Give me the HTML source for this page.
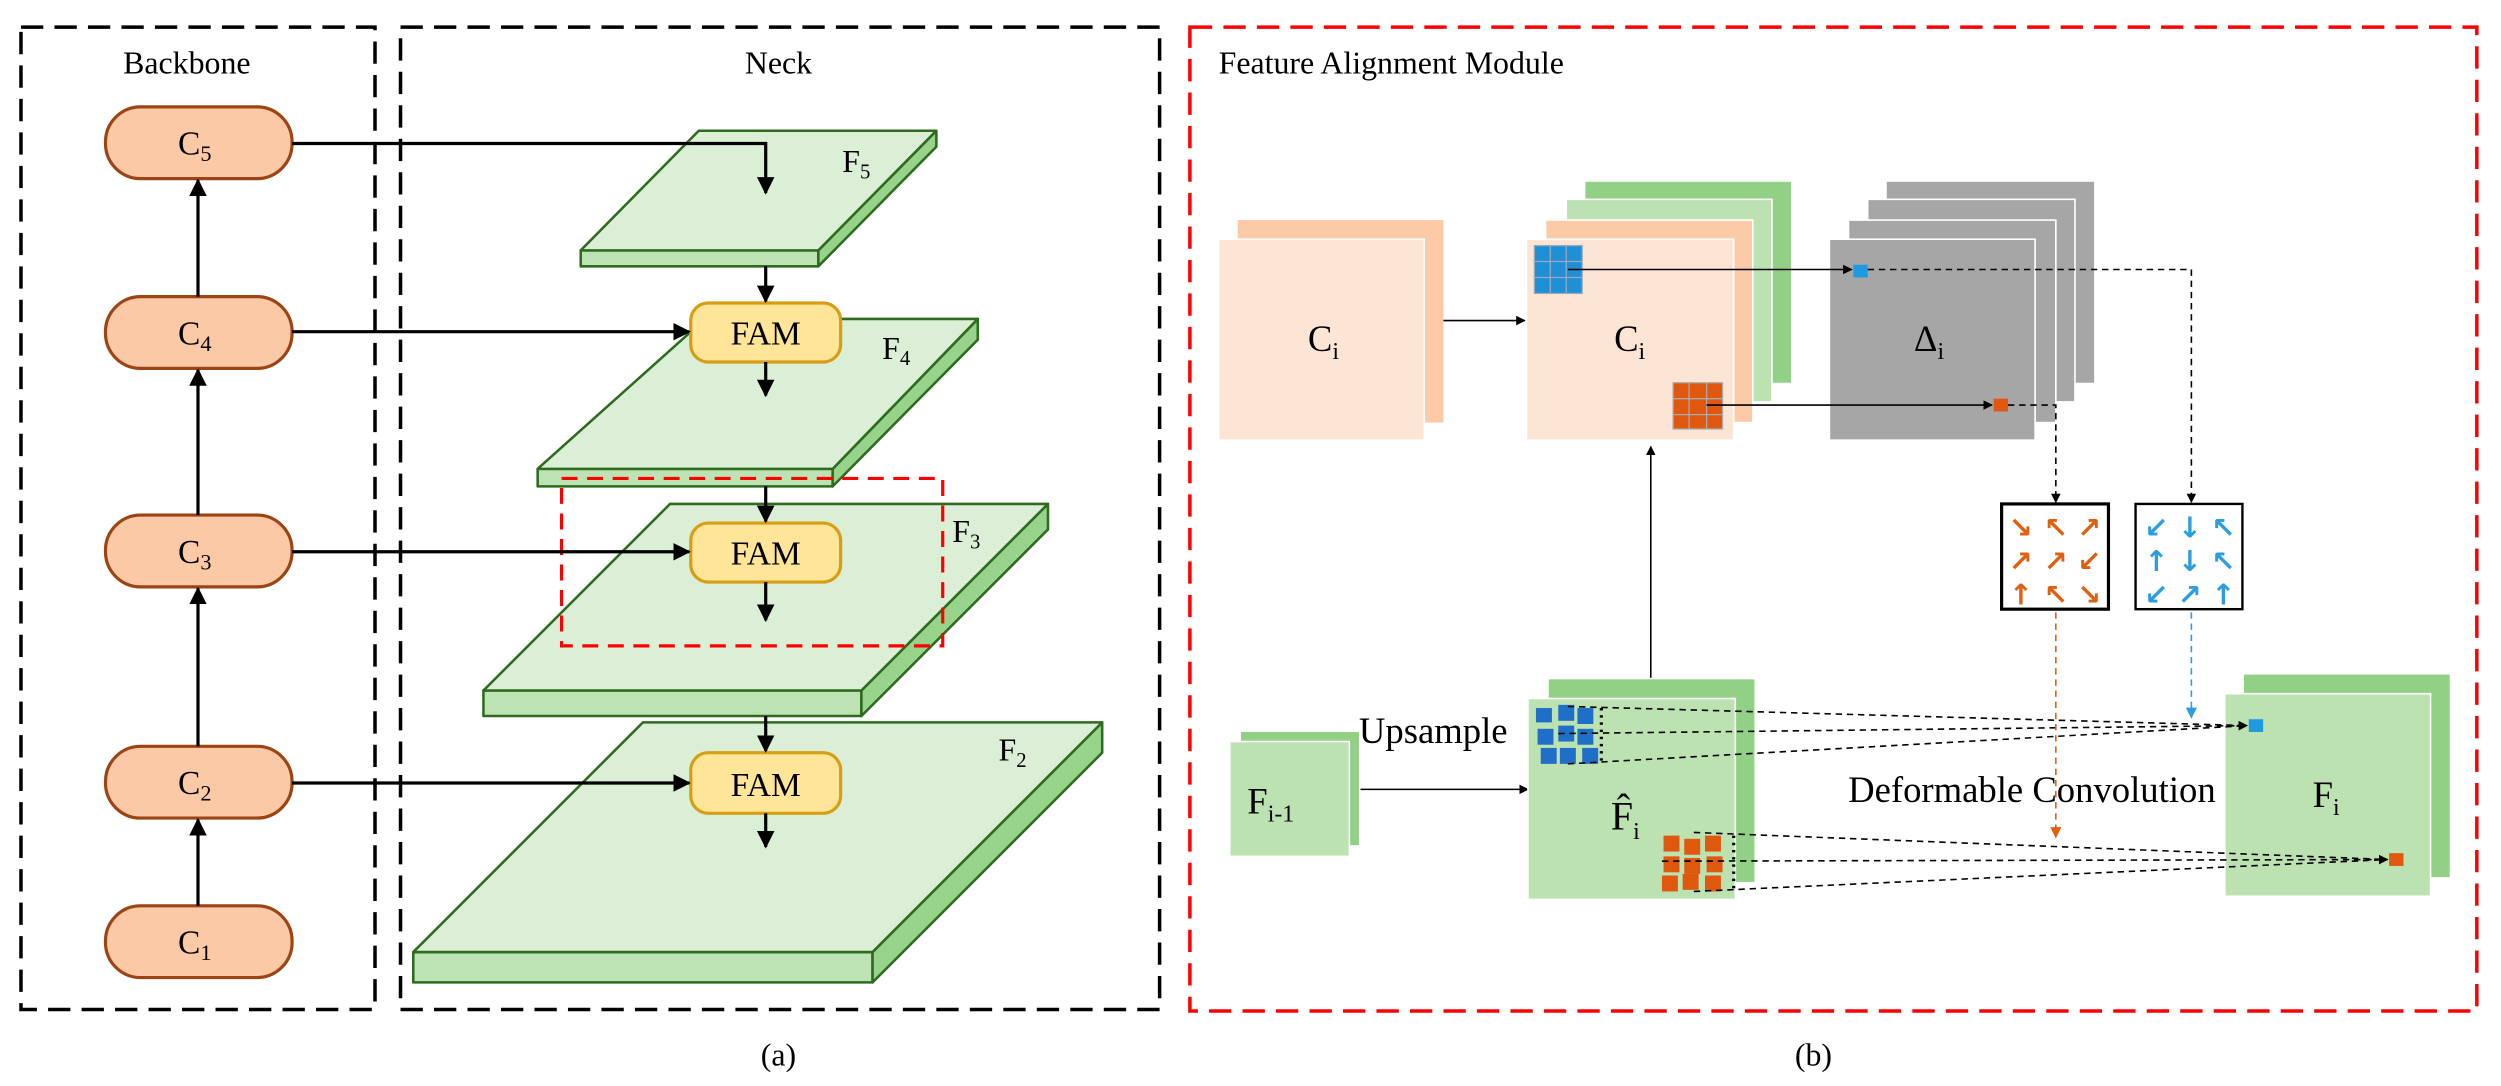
<!DOCTYPE html>
<html><head><meta charset="utf-8"><style>
html,body{margin:0;padding:0;background:#fff;}
svg{display:block;}
svg text{font-family:"Liberation Serif","Times New Roman",serif;}
</style></head><body>
<svg width="2501" height="1086" viewBox="0 0 1568 681" xmlns="http://www.w3.org/2000/svg" font-family="Liberation Serif, serif">
<defs>
<marker id="a" viewBox="0 0 10 10" refX="9" refY="5" markerWidth="6" markerHeight="6" markerUnits="userSpaceOnUse" orient="auto"><path d="M0,0L10,5L0,10z" fill="#000"/></marker>
<marker id="ab" viewBox="0 0 10 10" refX="9" refY="5" markerWidth="11" markerHeight="11" markerUnits="userSpaceOnUse" orient="auto"><path d="M0,0L10,5L0,10z" fill="#000"/></marker>
<marker id="ao" viewBox="0 0 10 10" refX="9" refY="5" markerWidth="7" markerHeight="7" markerUnits="userSpaceOnUse" orient="auto"><path d="M0,0L10,5L0,10z" fill="#e0600f"/></marker>
<marker id="abl" viewBox="0 0 10 10" refX="9" refY="5" markerWidth="7" markerHeight="7" markerUnits="userSpaceOnUse" orient="auto"><path d="M0,0L10,5L0,10z" fill="#2a9ee0"/></marker>
</defs>

<g fill="none" stroke-width="2.2" stroke-dasharray="14,7">
<rect x="13" y="17" width="222" height="616" stroke="#000"/>
<rect x="251" y="17" width="476" height="616" stroke="#000"/>
<rect x="746" y="17" width="807" height="617" stroke="#f00"/>
</g>
<text x="117" y="46" font-size="20" text-anchor="middle">Backbone</text>
<text x="488" y="46" font-size="20" text-anchor="middle">Neck</text>
<text x="764" y="46" font-size="20">Feature Alignment Module</text>
<text x="488" y="668" font-size="20" text-anchor="middle">(a)</text>
<text x="1137" y="668" font-size="20" text-anchor="middle">(b)</text>

<g stroke="#2e6b1f" stroke-width="1.6" stroke-linejoin="round">
<polygon points="259,597 547,597 547,616 259,616" fill="#bde3b4"/>
<polygon points="547,597 691,453 691,472 547,616" fill="#97d38a"/>
<polygon points="403,453 691,453 547,597 259,597" fill="#daefd5"/>
<polygon points="303,433 540,433 540,449 303,449" fill="#bde3b4"/>
<polygon points="540,433 657,316 657,332 540,449" fill="#97d38a"/>
<polygon points="420,316 657,316 540,433 303,433" fill="#daefd5"/>
<polygon points="337,294 522,294 522,305 337,305" fill="#bde3b4"/>
<polygon points="522,294 613,200 613,213 522,305" fill="#97d38a"/>
<polygon points="442,200 613,200 522,294 337,294" fill="#daefd5"/>
<polygon points="364,157 513,157 513,167 364,167" fill="#bde3b4"/>
<polygon points="513,157 587,82 587,92 513,167" fill="#97d38a"/>
<polygon points="438,82 587,82 513,157 364,157" fill="#daefd5"/>
</g>
<g font-size="20">
<text x="528" y="108">F<tspan font-size="13" dy="4">5</tspan></text>
<text x="553" y="225">F<tspan font-size="13" dy="4">4</tspan></text>
<text x="597" y="340">F<tspan font-size="13" dy="4">3</tspan></text>
<text x="626" y="477">F<tspan font-size="13" dy="4">2</tspan></text>
</g>

<rect x="352" y="300" width="239" height="105" fill="none" stroke="#f00" stroke-width="2" stroke-dasharray="10,6"/>

<g stroke="#9c4414" stroke-width="2" fill="#fcc9a6">
<rect x="66" y="67" width="117" height="45" rx="22"/>
<rect x="66" y="186" width="117" height="45" rx="22"/>
<rect x="66" y="323" width="117" height="45" rx="22"/>
<rect x="66" y="468" width="117" height="45" rx="22"/>
<rect x="66" y="568" width="117" height="45" rx="22"/>
</g>
<g font-size="21" text-anchor="middle">
<text x="122" y="97">C<tspan font-size="14" dy="4">5</tspan></text>
<text x="122" y="216">C<tspan font-size="14" dy="4">4</tspan></text>
<text x="122" y="353">C<tspan font-size="14" dy="4">3</tspan></text>
<text x="122" y="498">C<tspan font-size="14" dy="4">2</tspan></text>
<text x="122" y="598">C<tspan font-size="14" dy="4">1</tspan></text>
</g>

<g stroke="#d59e14" stroke-width="2" fill="#ffe597">
<rect x="433" y="190" width="94" height="37" rx="11"/>
<rect x="433" y="328" width="94" height="37" rx="11"/>
<rect x="433" y="472" width="94" height="38" rx="11"/>
</g>
<g font-size="21" text-anchor="middle">
<text x="480" y="216">FAM</text>
<text x="480" y="354">FAM</text>
<text x="480" y="499">FAM</text>
</g>

<g stroke="#000" stroke-width="2" fill="none" marker-end="url(#ab)">
<line x1="124" y1="568" x2="124" y2="514"/>
<line x1="124" y1="468" x2="124" y2="369"/>
<line x1="124" y1="323" x2="124" y2="232"/>
<line x1="124" y1="186" x2="124" y2="113"/>
<polyline points="183,90 480,90 480,121"/>
<line x1="183" y1="208" x2="432" y2="208"/>
<line x1="183" y1="346" x2="432" y2="346"/>
<line x1="183" y1="491" x2="432" y2="491"/>
<line x1="480" y1="167" x2="480" y2="189"/>
<line x1="480" y1="227" x2="480" y2="248"/>
<line x1="480" y1="305" x2="480" y2="327"/>
<line x1="480" y1="365" x2="480" y2="389"/>
<line x1="480" y1="449" x2="480" y2="471"/>
<line x1="480" y1="510" x2="480" y2="531"/>
</g>

<rect x="776" y="138" width="129" height="127" fill="#fdcaa8"/>
<rect x="764" y="150" width="129" height="126" fill="#fde5d5" stroke="#fff" stroke-width="1"/>
<text x="820" y="220" font-size="23">C<tspan font-size="15" dy="5">i</tspan></text>

<rect x="994" y="114" width="129" height="126" fill="#92d086"/>
<rect x="982" y="125" width="129" height="127" fill="#bce2b2" stroke="#fff"/>
<rect x="969" y="138" width="130" height="127" fill="#fdcaa8" stroke="#fff"/>
<rect x="957" y="150" width="130" height="126" fill="#fde5d5" stroke="#fff"/>
<text x="1012" y="220" font-size="23">C<tspan font-size="15" dy="5">i</tspan></text>

<rect x="1183" y="114" width="130" height="126" fill="#a6a6a6"/>
<rect x="1171" y="125" width="130" height="127" fill="#a6a6a6" stroke="#fff"/>
<rect x="1159" y="138" width="130" height="127" fill="#a6a6a6" stroke="#fff"/>
<rect x="1147" y="150" width="129" height="126" fill="#a6a6a6" stroke="#fff"/>
<text x="1200" y="220" font-size="23">Δ<tspan font-size="15" dy="5">i</tspan></text>

<g stroke="#9ab" stroke-width="0.8">
<rect x="962" y="154" width="30" height="30" fill="#1f8fd6"/>
<line x1="972" y1="154" x2="972" y2="184"/><line x1="982" y1="154" x2="982" y2="184"/>
<line x1="962" y1="164" x2="992" y2="164"/><line x1="962" y1="174" x2="992" y2="174"/>
</g>
<g stroke="#aaa" stroke-width="0.8">
<rect x="1049" y="240" width="31" height="29" fill="#e0580e"/>
<line x1="1059" y1="240" x2="1059" y2="269"/><line x1="1070" y1="240" x2="1070" y2="269"/>
<line x1="1049" y1="250" x2="1080" y2="250"/><line x1="1049" y1="260" x2="1080" y2="260"/>
</g>

<g stroke="#000" stroke-width="1" fill="none">
<line x1="905" y1="201" x2="956" y2="201" marker-end="url(#a)"/>
<line x1="983" y1="169" x2="1161" y2="169" marker-end="url(#a)"/>
<line x1="1070" y1="254" x2="1249" y2="254" marker-end="url(#a)"/>
<line x1="1035" y1="425" x2="1035" y2="280" marker-end="url(#a)"/>
<line x1="853" y1="495" x2="958" y2="495" marker-end="url(#a)"/>
<polyline points="1171,169 1374,169 1374,315" stroke-dasharray="4,3" marker-end="url(#a)"/>
<polyline points="1259,254 1289,254 1289,315" stroke-dasharray="4,3" marker-end="url(#a)"/>
</g>
<rect x="1162" y="166" width="9" height="8" fill="#1f9ae0"/>
<rect x="1250" y="250" width="9" height="8" fill="#e0580e"/>

<rect x="1255" y="316" width="67" height="66" fill="#fff" stroke="#000" stroke-width="2"/>
<rect x="1339" y="316" width="67" height="66" fill="#fff" stroke="#000" stroke-width="1.5"/>
<g font-size="18" text-anchor="middle" font-weight="bold" style="font-family:'DejaVu Sans',sans-serif">
<g fill="#e0600f" style="fill:#e0600f">
<text x="1267" y="337" style="font-family:'DejaVu Sans',sans-serif">↘</text><text x="1289" y="337" style="font-family:'DejaVu Sans',sans-serif">↖</text><text x="1310" y="337" style="font-family:'DejaVu Sans',sans-serif">↗</text>
<text x="1267" y="358" style="font-family:'DejaVu Sans',sans-serif">↗</text><text x="1289" y="358" style="font-family:'DejaVu Sans',sans-serif">↗</text><text x="1310" y="358" style="font-family:'DejaVu Sans',sans-serif">↙</text>
<text x="1267" y="379" style="font-family:'DejaVu Sans',sans-serif">↑</text><text x="1289" y="379" style="font-family:'DejaVu Sans',sans-serif">↖</text><text x="1310" y="379" style="font-family:'DejaVu Sans',sans-serif">↘</text>
</g>
<g fill="#2a9ee0" style="fill:#2a9ee0">
<text x="1352" y="337" style="font-family:'DejaVu Sans',sans-serif">↙</text><text x="1373" y="337" style="font-family:'DejaVu Sans',sans-serif">↓</text><text x="1394" y="337" style="font-family:'DejaVu Sans',sans-serif">↖</text>
<text x="1352" y="358" style="font-family:'DejaVu Sans',sans-serif">↑</text><text x="1373" y="358" style="font-family:'DejaVu Sans',sans-serif">↓</text><text x="1394" y="358" style="font-family:'DejaVu Sans',sans-serif">↖</text>
<text x="1352" y="379" style="font-family:'DejaVu Sans',sans-serif">↙</text><text x="1373" y="379" style="font-family:'DejaVu Sans',sans-serif">↗</text><text x="1394" y="379" style="font-family:'DejaVu Sans',sans-serif">↑</text>
</g>
</g>

<rect x="778" y="459" width="74" height="71" fill="#92d086"/>
<rect x="771" y="465" width="75" height="72" fill="#bce2b2" stroke="#fff"/>
<text x="782" y="510" font-size="23">F<tspan font-size="15" dy="5">i-1</tspan></text>
<text x="852" y="466" font-size="23">Upsample</text>

<rect x="971" y="426" width="129" height="127" fill="#92d086"/>
<rect x="958" y="438" width="130" height="126" fill="#bce2b2" stroke="#fff"/>
<text x="1010" y="520" font-size="25">F̂<tspan font-size="15" dy="6">i</tspan></text>

<rect x="1407" y="423" width="129" height="127" fill="#92d086"/>
<rect x="1395" y="435" width="129" height="127" fill="#bce2b2" stroke="#fff"/>
<text x="1450" y="506" font-size="23">F<tspan font-size="15" dy="5">i</tspan></text>

<text x="1274" y="503" font-size="23" text-anchor="middle">Deformable Convolution</text>

<g fill="#1f6fc8">
<rect x="963" y="444" width="10" height="9"/><rect x="977" y="442" width="10" height="10"/><rect x="989" y="444" width="10" height="10"/>
<rect x="964" y="457" width="10" height="10"/><rect x="977" y="455" width="10" height="10"/><rect x="989" y="457" width="10" height="10"/>
<rect x="966" y="469" width="10" height="10"/><rect x="978" y="469" width="10" height="10"/><rect x="992" y="469" width="10" height="10"/>
</g>
<g fill="#e0580e">
<rect x="1043" y="524" width="10" height="10"/><rect x="1056" y="526" width="10" height="10"/><rect x="1069" y="524" width="10" height="10"/>
<rect x="1043" y="537" width="10" height="10"/><rect x="1056" y="538" width="10" height="10"/><rect x="1070" y="537" width="10" height="10"/>
<rect x="1042" y="549" width="10" height="10"/><rect x="1055" y="548" width="10" height="10"/><rect x="1069" y="549" width="10" height="10"/>
</g>
<rect x="1410" y="451" width="9" height="8" fill="#1f9ae0"/>
<rect x="1498" y="535" width="9" height="8" fill="#e0580e"/>
<g stroke="#000" stroke-width="1" stroke-dasharray="4,3" fill="none">
<line x1="983" y1="443" x2="1409" y2="455"/>
<line x1="977" y1="460" x2="1409" y2="455" marker-end="url(#a)"/>
<line x1="983" y1="479" x2="1409" y2="455"/>
<line x1="1062" y1="522" x2="1497" y2="539"/>
<line x1="1042" y1="540" x2="1497" y2="539" marker-end="url(#a)"/>
<line x1="1062" y1="559" x2="1497" y2="539"/>
<line x1="1004" y1="444" x2="1004" y2="478" stroke-dasharray="1.5,3" stroke-width="2"/>
<line x1="1087" y1="524" x2="1087" y2="557" stroke-dasharray="1.5,3" stroke-width="2"/>
</g>
<line x1="1289" y1="384" x2="1289" y2="525" stroke="#e0600f" stroke-width="1" stroke-dasharray="4,3" marker-end="url(#ao)"/>
<line x1="1374" y1="384" x2="1374" y2="450" stroke="#2a9ee0" stroke-width="1" stroke-dasharray="4,3" marker-end="url(#abl)"/>
</svg>
</body></html>
